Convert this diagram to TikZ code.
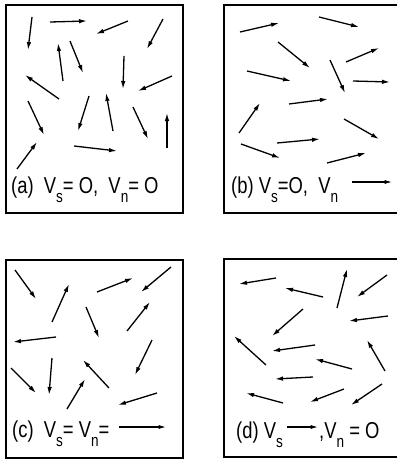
\documentclass[tikz,border=0pt]{standalone}
\usepackage{graphicx}
\usepackage{fontspec}
\setmainfont{Liberation Sans}
\usetikzlibrary{arrows.meta}
% lowered index letter and squeezed lettering
\newcommand{\lo}[1]{\raisebox{-0.4em}{\fontsize{17}{17}\selectfont #1}}
\newcommand{\lett}[1]{\scalebox{0.8}[1]{#1}}

\begin{document}
\begin{tikzpicture}[x=1pt,y=-1pt,
    vec/.style={-{Latex[length=8pt,width=4.5pt]},line width=1.3pt},
    vecs/.style={-{Latex[length=7.5pt,width=4.2pt]},line width=1.1pt},
    box/.style={line width=1.5pt},
    lab/.style={inner sep=0pt,anchor=base west,font=\fontsize{23}{26}\selectfont}]
  \useasboundingbox[fill=white] (0,0) rectangle (396,460);
  % frames
  \draw[box] (6,5) rectangle (183,213);
  \draw[box] (397,5) -| (224,213) -- (397,213);
  \draw[box] (6,260) rectangle (183,458);
  \draw[box] (397,259) -| (224,457) -- (397,457);
  % (a) random
  \foreach \xa/\ya/\xb/\yb in {32/17/28/50, 50/22/87/21, 128/21/96/34, 163/19/147/49,
      63/81/58/43, 70/41/83/73, 124/56/123/89, 59/99/25/75, 172/76/138/91,
      28/101/44/135, 89/96/78/131, 113/131/106/93, 133/107/148/139,
      167/148/167/113, 17/169/37/142, 74/146/117/151}
    \draw[vec] (\xa,\ya) -- (\xb,\yb);
  % (b) drift to the right
  \foreach \xa/\ya/\xb/\yb in {240/32/279/23, 319/17/359/27, 278/42/310/68,
      346/62/379/48, 247/71/291/81, 330/60/345/93, 353/81/390/82,
      289/104/328/99, 239/133/260/103, 344/119/379/139, 277/143/320/139,
      241/144/280/158, 327/163/366/153}
    \draw[vec] (\xa,\ya) -- (\xb,\yb);
  % (c) random
  \foreach \xa/\ya/\xb/\yb in {15/270/36/299, 52/322/69/284, 97/292/133/278,
      171/267/141/292, 86/307/99/338, 127/331/150/302, 56/337/13/342,
      152/340/135/375, 52/358/49/395, 11/368/36/393, 109/388/83/360,
      67/409/85/379, 157/393/118/405}
    \draw[vec] (\xa,\ya) -- (\xb,\yb);
  % (d) drift to the left
  \foreach \xa/\ya/\xb/\yb in {276/278/239/284, 323/297/285/288, 337/308/347/269,
      387/275/357/297, 303/309/272/336, 388/316/349/321, 266/365/234/336,
      315/345/272/351, 385/371/367/340, 352/369/315/359, 313/377/275/379,
      283/403/246/393, 344/389/310/402, 382/384/351/405}
    \draw[vec] (\xa,\ya) -- (\xb,\yb);
  % captions
  \node[lab] (la) at (11,193) {\lett{(a)\ \ V\lo{s}= O,\ \ V\lo{n}= O}};
  \node[lab] (lb) at (231,193) {\lett{(b) V\lo{s}=O,\ \ V\lo{n}}};
  \coordinate (bt) at (352,182);
  \coordinate (bh) at (392,182);
  \draw[vecs] (bt) -- (bh);
  \node[lab] (lc) at (12,437) {\lett{(c)\ \ V\lo{s}= V\lo{n}=}};
  \coordinate (ct) at (119,427);
  \coordinate (ch) at (166,427);
  \draw[vecs] (ct) -- (ch);
  \node[lab] (ld) at (236,438) {\lett{(d) V\lo{s}}};
  \coordinate (dt) at (287,427);
  \coordinate (dh) at (318,427);
  \draw[vecs] (dt) -- (dh);
  \node[lab] (le) at (319,438) {\lett{,V\lo{n} = O}};
\end{tikzpicture}
\end{document}
